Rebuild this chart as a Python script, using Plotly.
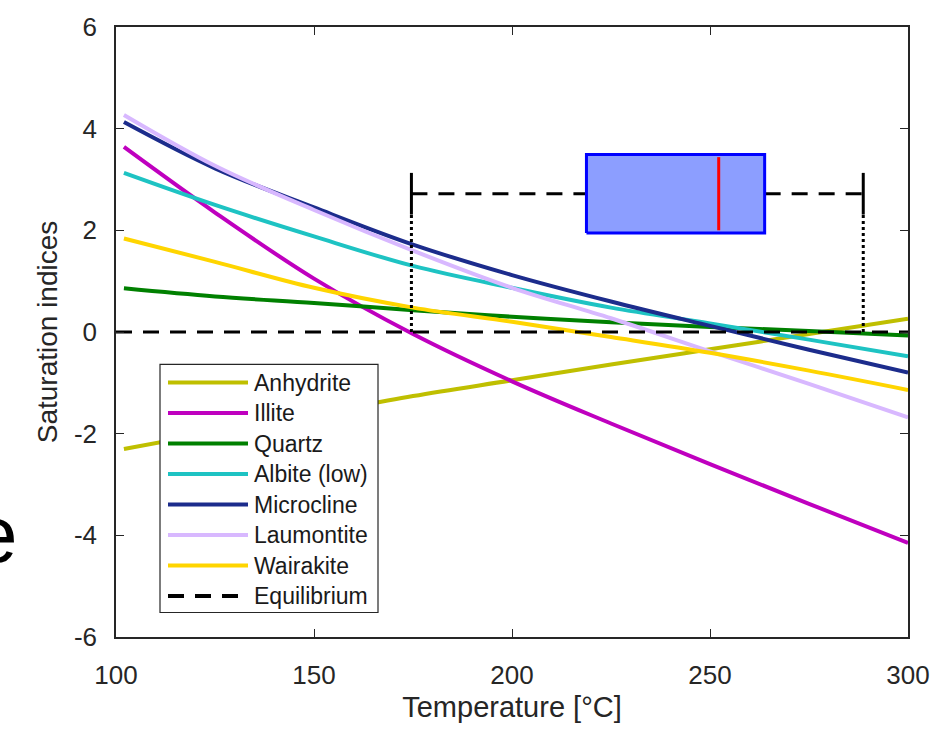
import plotly.graph_objects as go

# ---------------- data ----------------
temperature = [102, 125, 150, 175, 200, 225, 250, 275, 300]
anhydrite = [-2.30, -1.97, -1.62, -1.26, -0.95, -0.64, -0.34, -0.04, 0.26]
illite = [3.64, 2.35, 1.05, -0.04, -0.97, -1.80, -2.60, -3.38, -4.15]
quartz = [0.86, 0.70, 0.57, 0.43, 0.30, 0.19, 0.10, 0.02, -0.07]
albite = [3.13, 2.50, 1.88, 1.30, 0.87, 0.48, 0.17, -0.15, -0.48]
microcline = [4.13, 3.22, 2.45, 1.72, 1.12, 0.60, 0.12, -0.35, -0.80]
laumontite = [4.27, 3.27, 2.40, 1.60, 0.87, 0.27, -0.38, -1.02, -1.68]
wairakite = [1.84, 1.38, 0.87, 0.48, 0.20, -0.10, -0.41, -0.76, -1.14]

equilibrium_x = [100, 300]
equilibrium_y = [0, 0]

series_names = ["Anhydrite", "Illite", "Quartz", "Albite (low)", "Microcline",
                "Laumontite", "Wairakite"]
series_values = [anhydrite, illite, quartz, albite, microcline, laumontite, wairakite]
series_colors = ["#BFBF00", "#BF00BF", "#008000", "#1EC3C3", "#1C2C8C",
                 "#D8B8FF", "#FFD500"]

# horizontal box plot of temperatures
box_min = 174.6
box_q1 = 218.8
box_median = 252.2
box_q3 = 263.8
box_max = 288.7
box_y = 2.72          # vertical position of box centre (SI units)
box_half = 0.77       # half height of box
cap_half = 0.41       # half height of whisker caps

x_ticks = [100, 150, 200, 250, 300]
y_ticks = [-6, -4, -2, 0, 2, 4, 6]
y_tick_labels = ["-6", "-4", "-2", "0", "2", "4", "6"]

FONT = "Liberation Sans, Arial, Helvetica, sans-serif"
AX = "#262626"
LW = 4

fig = go.Figure()

for name, vals, col in zip(series_names, series_values, series_colors):
    fig.add_trace(go.Scatter(x=temperature, y=vals, mode="lines", name=name,
                             line=dict(color=col, width=LW, shape="spline", smoothing=1.0),
                             showlegend=False, hoverinfo="skip"))

fig.add_trace(go.Scatter(x=equilibrium_x, y=equilibrium_y, mode="lines", name="Equilibrium",
                         line=dict(color="black", width=3, dash="16px,11px"),
                         showlegend=False))

# box plot built from statistics
fig.add_trace(go.Scatter(x=[box_min, box_min], y=[0, box_y - cap_half], mode="lines",
                         line=dict(color="black", width=3, dash="dot"), showlegend=False))
fig.add_trace(go.Scatter(x=[box_max, box_max], y=[0, box_y - cap_half], mode="lines",
                         line=dict(color="black", width=3, dash="dot"), showlegend=False))
fig.add_trace(go.Scatter(x=[box_min, box_q1], y=[box_y, box_y], mode="lines",
                         line=dict(color="black", width=3, dash="16px,11px"), showlegend=False))
fig.add_trace(go.Scatter(x=[box_q3, box_max], y=[box_y, box_y], mode="lines",
                         line=dict(color="black", width=3, dash="16px,11px"), showlegend=False))
for xv in (box_min, box_max):
    fig.add_trace(go.Scatter(x=[xv, xv], y=[box_y - cap_half, box_y + cap_half], mode="lines",
                             line=dict(color="black", width=3), showlegend=False))
fig.add_trace(go.Scatter(x=[box_q1, box_q3, box_q3, box_q1, box_q1],
                         y=[box_y - box_half, box_y - box_half, box_y + box_half,
                            box_y + box_half, box_y - box_half],
                         mode="lines", fill="toself", fillcolor="#8C9EFF",
                         line=dict(color="#0000FF", width=3), showlegend=False))
fig.add_trace(go.Scatter(x=[box_median, box_median],
                         y=[box_y - box_half + 0.05, box_y + box_half - 0.05], mode="lines",
                         line=dict(color="#FF0000", width=3), showlegend=False))

# ---------------- manual legend (long line samples) ----------------
W, H = 947, 731
ML, MR, MT, MB = 116, 39, 15, 94
PW, PH = W - ML - MR, H - MT - MB


def px(xp):
    return (xp - ML) / PW


def py(yp):
    return (H - MB - yp) / PH


shapes = [dict(type="rect", xref="paper", yref="paper",
               x0=px(160), x1=px(378), y0=py(612), y1=py(359),
               fillcolor="white", line=dict(color="#262626", width=1.2), layer="above")]
annotations = []
leg_names = series_names + ["Equilibrium"]
leg_colors = series_colors + ["black"]
for i, (nm, col) in enumerate(zip(leg_names, leg_colors)):
    yrow = 377.5 + i * 31.1
    shapes.append(dict(type="line", xref="paper", yref="paper",
                       x0=px(168), x1=px(248), y0=py(yrow), y1=py(yrow),
                       line=dict(color=col, width=LW,
                                 dash="16px,11px" if nm == "Equilibrium" else "solid"),
                       layer="above"))
    annotations.append(dict(xref="paper", yref="paper", x=px(252), y=py(yrow),
                            xanchor="left", yanchor="middle", text=nm, showarrow=False,
                            font=dict(family=FONT, size=23, color="#1a1a1a")))

annotations.append(dict(xref="paper", yref="paper", x=px(20), y=py(532),
                        xanchor="right", yanchor="middle", text="e", showarrow=False,
                        font=dict(family=FONT, size=80, color="black")))

fig.update_layout(
    width=W, height=H,
    margin=dict(l=ML, r=MR, t=MT, b=MB),
    plot_bgcolor="white", paper_bgcolor="white",
    font=dict(family=FONT, color=AX),
    shapes=shapes, annotations=annotations,
    showlegend=False,
    xaxis=dict(range=[100, 300], tickvals=x_ticks, ticks="inside", ticklen=8,
               tickcolor=AX, tickwidth=1.2, showline=True, linecolor=AX, linewidth=1.5,
               mirror="ticks", showgrid=False, zeroline=False,
               tickfont=dict(size=26, color=AX), ticklabelstandoff=14,
               title=dict(text="Temperature [°C]", font=dict(size=29, color=AX), standoff=8)),
    yaxis=dict(range=[-6, 6], tickvals=y_ticks, ticktext=y_tick_labels, ticks="inside",
               ticklen=8, tickcolor=AX, tickwidth=1.2, showline=True, linecolor=AX,
               linewidth=1.5, mirror="ticks", showgrid=False, zeroline=False,
               tickfont=dict(size=26, color=AX), ticklabelstandoff=12,
               title=dict(text="Saturation indices", font=dict(size=28, color=AX), standoff=8)),
)

fig.write_html("out.html")
